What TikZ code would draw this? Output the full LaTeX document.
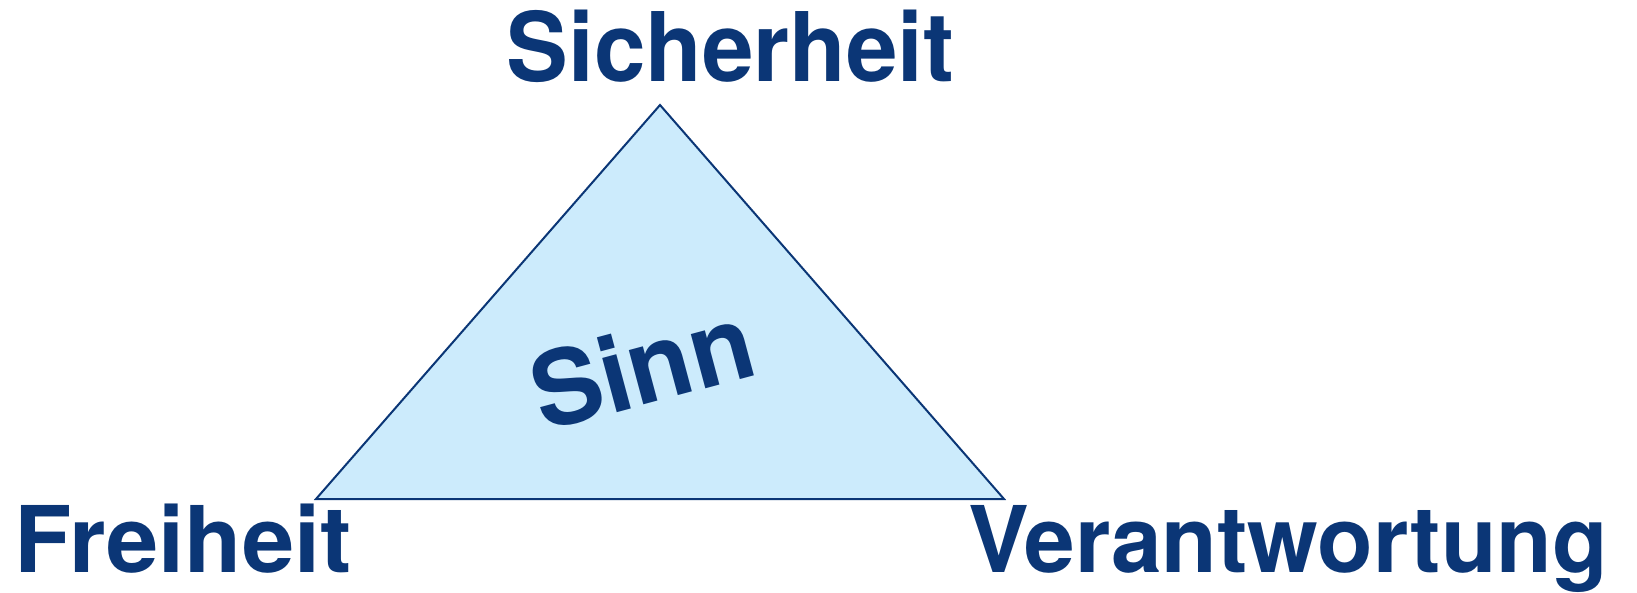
\documentclass[tikz,border=0pt]{standalone}
\usepackage{fontspec}
\setmainfont{TeX Gyre Heros}
\definecolor{darkblue}{HTML}{0B3676}
\definecolor{lightblue}{HTML}{CCEBFC}
\begin{document}
\begin{tikzpicture}[x=1pt,y=-1pt,
  lbl/.style={inner sep=0pt, text=darkblue, font=\bfseries\fontsize{92}{92}\selectfont},
  bigl/.style={lbl, font=\bfseries\fontsize{96}{96}\selectfont}]
\useasboundingbox (0,0) rectangle (1637,592);
\coordinate (T) at (660,105);
\coordinate (L) at (316,499);
\coordinate (R) at (1004,499);
\draw[darkblue, line width=2pt, fill=lightblue, line join=miter] (T) -- (R) -- (L) -- cycle;
\node[bigl, xscale=0.965, anchor=base] (sich) at (730.5,81) {Sicherheit};
\node[lbl, xscale=1.02, anchor=base] (frei) at (183,572) {Freiheit};
\node[lbl, xscale=0.99, anchor=base] (ver) at (1288,572) {Verantwortung};
\node[lbl, font=\bfseries\fontsize{104}{104}\selectfont, rotate=15, anchor=center] (sinn) at (642,366) {Sinn};
\end{tikzpicture}
\end{document}
